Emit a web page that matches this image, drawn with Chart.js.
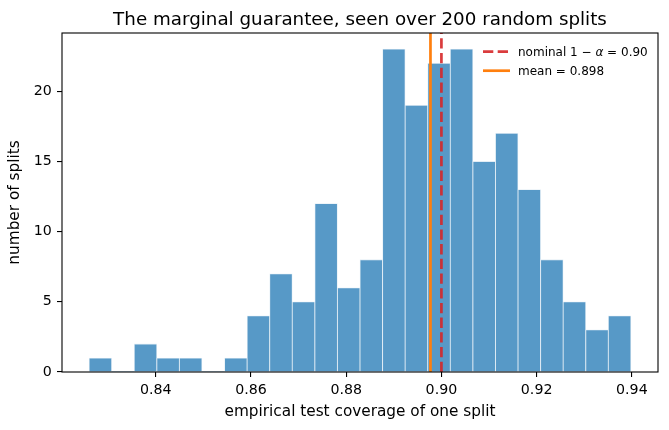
<!DOCTYPE html>
<html>
<head>
<meta charset="utf-8">
<script src="https://cdn.jsdelivr.net/npm/chart.js@4.4.0/dist/chart.umd.min.js"></script>
<style>
  body { margin: 0; background: #fff; }
  canvas { display: block; }
</style>
</head>
<body>
<canvas id="hist" width="669" height="430"></canvas>
<script>
// coverage of each random split, binned into 24 equal bins between min and max
const binLow = 0.826;
const binHigh = 0.9398;
const splitCounts = [1, 0, 2, 1, 1, 0, 1, 4, 7, 5, 12, 6, 8, 23, 19, 22, 23, 15, 17, 13, 8, 5, 3, 4];
const nominalCoverage = 0.90;
const meanCoverage = 0.8977;
const xTickValues = [0.84, 0.86, 0.88, 0.90, 0.92, 0.94];
const yTickValues = [0, 5, 10, 15, 20];
const legendLabels = ["nominal 1 − α = 0.90", "mean = 0.898"];
const titleText = "The marginal guarantee, seen over 200 random splits";

const FONT = "'DejaVu Sans', sans-serif";

const binWidth = (binHigh - binLow) / splitCounts.length;
const barPoints = splitCounts.map((c, i) => ({ x: binLow + (i + 0.5) * binWidth, y: c }));
const span = binHigh - binLow;
const xMin = binLow - 0.05 * span;
const xMax = binHigh + 0.05 * span;
const yMax = Math.max(...splitCounts) * 1.05;

const legendStyles = [
  { color: "rgba(214,39,40,0.9)", dash: [10.3, 4.4] },
  { color: "#ff7f0e", dash: [] }
];

// title, axes frame and legend drawn matplotlib-style
const decorations = {
  id: "decorations",
  afterDatasetsDraw(chart) {
    const ctx = chart.ctx;
    const a = chart.chartArea;
    ctx.save();
    ctx.strokeStyle = "#000";
    ctx.lineWidth = 1.1;
    ctx.strokeRect(a.left, a.top, a.right - a.left, a.bottom - a.top);

    ctx.fillStyle = "#000";
    ctx.font = "18.3px " + FONT;
    ctx.textAlign = "center";
    ctx.textBaseline = "alphabetic";
    ctx.fillText(titleText, (a.left + a.right) / 2, 25);

    // legend
    ctx.textAlign = "left";
    legendLabels.forEach((lab, i) => {
      const y = 51.7 + i * 19;
      ctx.beginPath();
      ctx.strokeStyle = legendStyles[i].color;
      ctx.setLineDash(legendStyles[i].dash);
      ctx.lineWidth = 2.7;
      ctx.moveTo(483, y);
      ctx.lineTo(510, y);
      ctx.stroke();
      ctx.setLineDash([]);
      ctx.fillStyle = "#000";
      let x = 518;
      const parts = lab.split("α");
      parts.forEach((p, j) => {
        ctx.font = "12px " + FONT;
        ctx.fillText(p, x, y + 4.5);
        x += ctx.measureText(p).width;
        if (j < parts.length - 1) {
          ctx.font = "italic 12px " + FONT;
          ctx.fillText("α", x, y + 4.5);
          x += ctx.measureText("α").width;
        }
      });
    });
    ctx.restore();
  }
};

new Chart(document.getElementById("hist"), {
  type: "bar",
  data: {
    datasets: [
      {
        type: "line",
        data: [{ x: nominalCoverage, y: 0 }, { x: nominalCoverage, y: yMax }],
        borderColor: "rgba(214,39,40,0.9)",
        borderDash: [10.3, 4.4],
        borderWidth: 2.7,
        pointRadius: 0,
        order: 0
      },
      {
        type: "line",
        data: [{ x: meanCoverage, y: 0 }, { x: meanCoverage, y: yMax }],
        borderColor: "#ff7f0e",
        borderWidth: 2.7,
        pointRadius: 0,
        order: 1
      },
      {
        data: barPoints,
        backgroundColor: "#5799c7",
        borderColor: "#e2edf5",
        borderWidth: ctx => (ctx.raw && ctx.raw.y > 0 ? 0.8 : 0),
        borderSkipped: "bottom",
        barPercentage: 1,
        categoryPercentage: 1,
        order: 2
      }
    ]
  },
  options: {
    responsive: false,
    animation: false,
    devicePixelRatio: 1,
    events: [],
    layout: { padding: { top: 33, right: 11, left: 0, bottom: 0 } },
    plugins: { legend: { display: false }, tooltip: { enabled: false } },
    scales: {
      x: {
        type: "linear",
        min: xMin,
        max: xMax,
        offset: false,
        afterFit: s => { s.height = 58; },
        afterBuildTicks: s => { s.ticks = xTickValues.map(v => ({ value: v })); },
        grid: { offset: false, drawOnChartArea: false, drawTicks: true, tickLength: 5, color: "#000", lineWidth: 1.1 },
        border: { display: false },
        ticks: {
          color: "#000",
          font: { family: FONT, size: 14.2 },
          padding: 5.3,
          maxRotation: 0,
          callback: v => v.toFixed(2)
        },
        title: {
          display: true,
          text: "empirical test coverage of one split",
          color: "#000",
          font: { family: FONT, size: 15.3 },
          padding: { top: 0, bottom: 9.1 }
        }
      },
      y: {
        min: 0,
        max: yMax,
        afterFit: s => { s.width = 62; },
        afterBuildTicks: s => { s.ticks = yTickValues.map(v => ({ value: v })); },
        grid: { drawOnChartArea: false, drawTicks: true, tickLength: 5, color: "#000", lineWidth: 1.1 },
        border: { display: false },
        ticks: {
          color: "#000",
          font: { family: FONT, size: 14.2 },
          padding: 5.3
        },
        title: {
          display: true,
          text: "number of splits",
          color: "#000",
          font: { family: FONT, size: 15.3 },
          padding: { top: 6.2, bottom: 0 }
        }
      }
    }
  },
  plugins: [decorations]
});
</script>
</body>
</html>
